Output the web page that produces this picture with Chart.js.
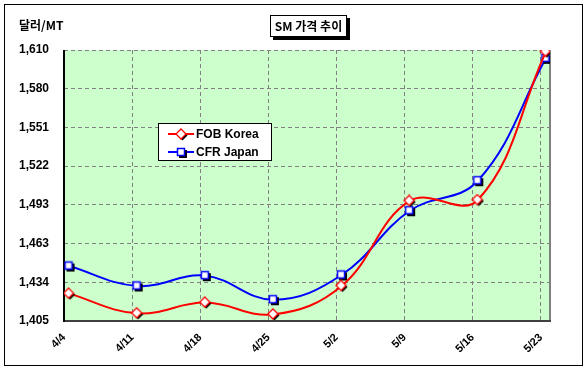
<!DOCTYPE html>
<html><head><meta charset="utf-8">
<script src="https://cdn.jsdelivr.net/npm/chart.js@4/dist/chart.umd.min.js"></script>
<style>html,body{margin:0;padding:0;background:#fff;} canvas{display:block}</style>
</head><body>
<canvas id="c" width="588" height="375"></canvas>
<script>
const categories = ['4/4','4/11','4/18','4/25','5/2','5/9','5/16','5/23'];
const fobKorea = [1425.7, 1410.8, 1418.9, 1410.0, 1431.5, 1495.8, 1496.5, 1608.7];
const cfrJapan = [1446.6, 1431.5, 1439.3, 1421.1, 1439.8, 1488.4, 1511.1, 1603.7];
const yTickLabels = ['1,405','1,434','1,463','1,493','1,522','1,551','1,580','1,610'];
const seriesNames = ['FOB Korea', 'CFR Japan'];
const yMin = 1405, yMax = 1610;

function makeMarker(kind, color) {
  const cv = document.createElement('canvas');
  cv.width = 13; cv.height = 13;
  const g = cv.getContext('2d');
  if (kind === 'rect') {
    g.fillStyle = '#000';
    g.fillRect(4, 4, 8, 8);
    g.fillStyle = '#fff';
    g.fillRect(2, 2, 8, 8);
    g.strokeStyle = color; g.lineWidth = 1.5;
    g.strokeRect(2.5, 2.5, 7, 7);
  } else {
    const d = (ox, oy) => { g.beginPath(); g.moveTo(6+ox,1+oy); g.lineTo(11+ox,6+oy); g.lineTo(6+ox,11+oy); g.lineTo(1+ox,6+oy); g.closePath(); };
    d(1.5,1.5); g.fillStyle = '#000'; g.fill();
    d(0,0); g.fillStyle = '#fff'; g.fill();
    g.strokeStyle = color; g.lineWidth = 1.3; g.stroke();
  }
  return cv;
}
const redMarker = makeMarker('diamond', '#ff0000');
const blueMarker = makeMarker('rect', '#0000ff');

const decor = {
  id: 'decor',
  beforeDraw(chart) {
    const {ctx, chartArea: a} = chart;
    ctx.save();
    ctx.fillStyle = '#fff';
    ctx.fillRect(0, 0, chart.width, chart.height);
    ctx.strokeStyle = '#000'; ctx.lineWidth = 1;
    ctx.strokeRect(4.5, 4.5, 578, 361);
    ctx.fillStyle = '#ccffcc';
    ctx.fillRect(a.left, a.top, a.right - a.left, a.bottom - a.top);
    ctx.restore();
  },
  beforeDatasetsDraw(chart) {
    const {ctx, chartArea: a} = chart;
    ctx.save();
    ctx.lineWidth = 2;
    ctx.strokeStyle = '#808080';
    ctx.beginPath(); ctx.moveTo(a.right, a.top); ctx.lineTo(a.right, a.bottom); ctx.stroke();
    ctx.strokeStyle = '#404040';
    ctx.beginPath(); ctx.moveTo(a.left, a.bottom); ctx.lineTo(a.right + 1, a.bottom); ctx.stroke();
    ctx.strokeStyle = '#000';
    ctx.beginPath(); ctx.moveTo(a.left, a.top); ctx.lineTo(a.left, a.bottom + 1); ctx.stroke();
    ctx.restore();
  },
  afterDraw(chart) {
    const ctx = chart.ctx;
    ctx.save();
    // unit label
    ctx.fillStyle = '#000';
    ctx.font = 'bold 12px "Noto Sans CJK KR", "Liberation Sans", sans-serif';
    ctx.textBaseline = 'middle'; ctx.textAlign = 'left';
    ctx.fillText('달러/MT', 19, 25);
    // title box
    ctx.fillStyle = '#000';
    ctx.fillRect(273, 18, 77, 22);
    ctx.fillStyle = '#fff';
    ctx.fillRect(270, 15, 77, 22);
    ctx.strokeStyle = '#000'; ctx.lineWidth = 1;
    ctx.strokeRect(270.5, 15.5, 76, 21);
    ctx.fillStyle = '#000';
    ctx.font = 'bold 12px "Noto Sans CJK KR", "Liberation Sans", sans-serif';
    ctx.textAlign = 'center';
    ctx.fillText('SM 가격 추이', 308.5, 26.5);
    // legend
    ctx.fillStyle = '#fff';
    ctx.fillRect(158, 123, 114, 38);
    ctx.strokeRect(158.5, 123.5, 113, 37);
    const items = [[seriesNames[0], '#ff0000', redMarker, 134], [seriesNames[1], '#0000ff', blueMarker, 152]];
    ctx.font = 'bold 12px "Liberation Sans", Arial, sans-serif';
    ctx.textAlign = 'left';
    for (const [name, col, mk, y] of items) {
      ctx.strokeStyle = col; ctx.lineWidth = 2;
      ctx.beginPath(); ctx.moveTo(168, y); ctx.lineTo(194, y); ctx.stroke();
      ctx.drawImage(mk, 181 - 6, y - 6);
      ctx.fillStyle = '#000';
      ctx.fillText(name, 196, y + 0.5);
    }
    ctx.restore();
  }
};

const xOffset = 0.074;
const chart = new Chart(document.getElementById('c'), {
  type: 'line',
  data: {
    datasets: [
      { label: seriesNames[0], data: fobKorea.map((v, i) => ({x: i, y: v})),
        borderColor: '#ff0000', borderWidth: 2, tension: 0.4,
        pointStyle: redMarker, pointRadius: 6, pointHoverRadius: 6 },
      { label: seriesNames[1], data: cfrJapan.map((v, i) => ({x: i, y: v})),
        borderColor: '#0000ff', borderWidth: 2, tension: 0.4,
        pointStyle: blueMarker, pointRadius: 6, pointHoverRadius: 6 }
    ]
  },
  options: {
    responsive: false, animation: false, devicePixelRatio: 1,
    layout: { padding: { top: 50, right: 38, left: 0, bottom: 0 } },
    plugins: { legend: { display: false }, tooltip: { enabled: false } },
    scales: {
      x: {
        type: 'linear', min: -xOffset, max: categories.length - 1 + 0.06,
        afterBuildTicks(s) { s.ticks = categories.map((c, i) => ({ value: i - xOffset })); },
        afterFit(s) { s.height = 54; },
        grid: { color: '#808080', lineWidth: 1, drawTicks: false },
        border: { display: false, dash: [4, 3] },
        ticks: {
          autoSkip: false, minRotation: 45, maxRotation: 45, padding: 10, color: '#000',
          font: { family: '"Liberation Sans", Arial, sans-serif', size: 11, weight: 'bold' },
          callback(v, i) { return categories[i]; }
        }
      },
      y: {
        min: yMin, max: yMax,
        afterBuildTicks(s) { s.ticks = yTickLabels.map((t, k) => ({ value: yMin + k * (yMax - yMin) / (yTickLabels.length - 1) })); },
        afterFit(s) { s.width = 64; },
        grid: { color: '#808080', lineWidth: 1, drawTicks: false },
        border: { display: false, dash: [4, 3] },
        ticks: {
          padding: 15, color: '#000',
          font: { family: '"Liberation Sans", Arial, sans-serif', size: 12, weight: 'bold' },
          callback(v, i) { return yTickLabels[i]; }
        }
      }
    }
  },
  plugins: [decor]
});
</script>
</body></html>
